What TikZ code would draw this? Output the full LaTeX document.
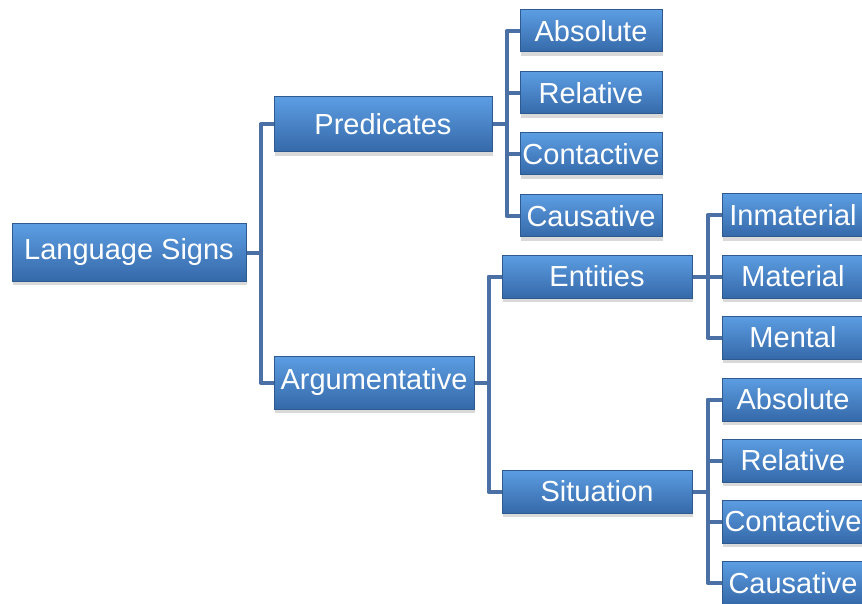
\documentclass[tikz,border=0pt]{standalone}
\usepackage{fontspec}
\setmainfont{Liberation Sans}
\usepackage{tikz}
\usetikzlibrary{shadows}
\definecolor{boxtop}{HTML}{5C9DE2}
\definecolor{boxmid}{HTML}{3F7DC5}
\definecolor{boxbot}{HTML}{3569A9}
\definecolor{boxline}{HTML}{2E5A8F}
\definecolor{linkcol}{HTML}{4A70A6}
\tikzset{
sign/.style={rectangle,top color=boxtop,middle color=boxmid,bottom color=boxbot,
  draw=boxline,line width=1pt,text=white,inner sep=0pt,
  font=\fontsize{29}{33}\selectfont,
  drop shadow={shadow xshift=1pt,shadow yshift=-4pt,opacity=.3}},
link/.style={draw=linkcol,line width=4pt,line join=round}
}

\begin{document}
\begin{tikzpicture}[x=1pt,y=-1pt]
\useasboundingbox (0,0) rectangle (862,604);
\node[sign,minimum width=234pt,minimum height=57pt] (signs) at (129,252.5) {Language Signs};
\node[sign,minimum width=218pt,minimum height=55pt] (pred) at (383,124.5) {Predicates};
\node[sign,minimum width=200pt,minimum height=53pt] (arg) at (374,382.5) {Argumentative};
\node[sign,minimum width=142pt,minimum height=42pt] (pabs) at (591,31) {Absolute};
\node[sign,minimum width=142pt,minimum height=42pt] (prel) at (591,93) {Relative};
\node[sign,minimum width=142pt,minimum height=42pt] (pcon) at (591,154) {Contactive};
\node[sign,minimum width=142pt,minimum height=42pt] (pcau) at (591,216) {Causative};
\node[sign,minimum width=190pt,minimum height=43pt] (ent) at (597,276.5) {Entities};
\node[sign,minimum width=190pt,minimum height=43pt] (sit) at (597,491.5) {Situation};
\node[sign,minimum width=142pt,minimum height=43pt] (einm) at (793,215.5) {Inmaterial};
\node[sign,minimum width=142pt,minimum height=43pt] (emat) at (793,276.5) {Material};
\node[sign,minimum width=142pt,minimum height=43pt] (ement) at (793,337.5) {Mental};
\node[sign,minimum width=142pt,minimum height=43pt] (sabs) at (793,399.5) {Absolute};
\node[sign,minimum width=142pt,minimum height=43pt] (srel) at (793,460.5) {Relative};
\node[sign,minimum width=142pt,minimum height=43pt] (scon) at (793,521.5) {Contactive};
\node[sign,minimum width=142pt,minimum height=43pt] (scau) at (793,583) {Causative};
\draw[link] (signs.east) -- ++(14,0) |- (pred.west);
\draw[link] (signs.east) -- ++(14,0) |- (arg.west);
\draw[link] (pred.east) -- ++(14,0) |- (pabs.west);
\draw[link] (pred.east) -- ++(14,0) |- (prel.west);
\draw[link] (pred.east) -- ++(14,0) |- (pcon.west);
\draw[link] (pred.east) -- ++(14,0) |- (pcau.west);
\draw[link] (arg.east) -- ++(14,0) |- (ent.west);
\draw[link] (arg.east) -- ++(14,0) |- (sit.west);
\draw[link] (ent.east) -- ++(15,0) |- (einm.west);
\draw[link] (ent.east) -- ++(15,0) |- (emat.west);
\draw[link] (ent.east) -- ++(15,0) |- (ement.west);
\draw[link] (sit.east) -- ++(15,0) |- (sabs.west);
\draw[link] (sit.east) -- ++(15,0) |- (srel.west);
\draw[link] (sit.east) -- ++(15,0) |- (scon.west);
\draw[link] (sit.east) -- ++(15,0) |- (scau.west);
\end{tikzpicture}
\end{document}
